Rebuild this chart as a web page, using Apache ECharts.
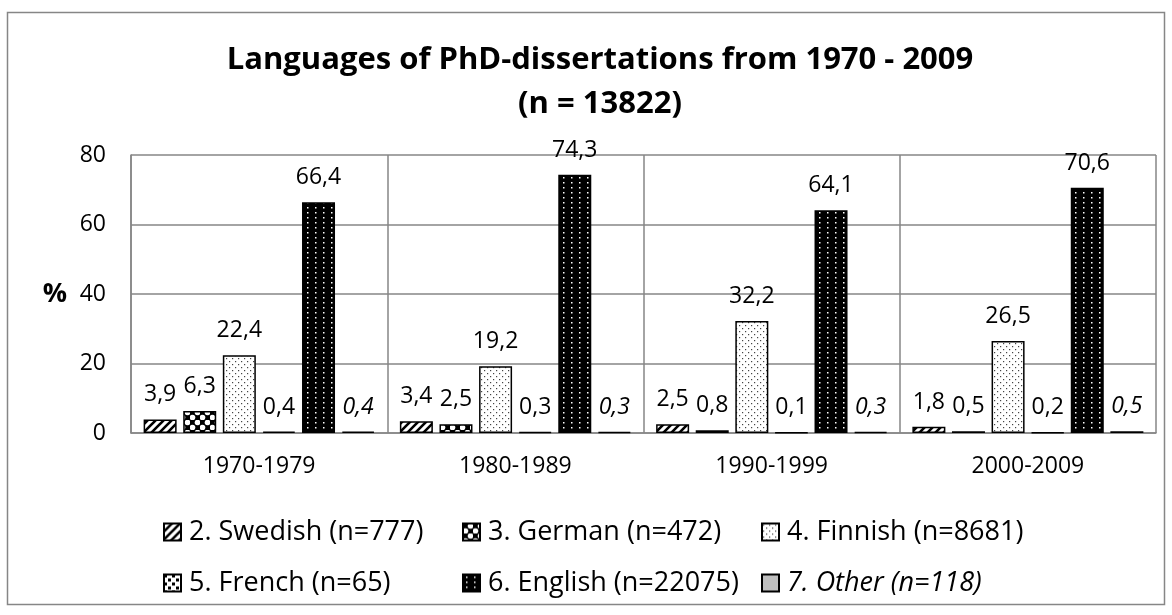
<!DOCTYPE html>
<html>
<head>
<meta charset="utf-8">
<script src="https://cdn.jsdelivr.net/npm/echarts@6/dist/echarts.min.js"></script>
<style>
  html, body { margin: 0; padding: 0; background: #fff; }
  #chart { width: 1172px; height: 615px; }
</style>
</head>
<body>
<div id="chart"></div>
<script>
const periods = ['1970-1979', '1980-1989', '1990-1999', '2000-2009']
const languages = ['2. Swedish (n=777)', '3. German (n=472)', '4. Finnish (n=8681)', '5. French (n=65)', '6. English (n=22075)', '7. Other (n=118)']
const swedish = [3.9, 3.4, 2.5, 1.8]
const german = [6.3, 2.5, 0.8, 0.5]
const finnish = [22.4, 19.2, 32.2, 26.5]
const french = [0.4, 0.3, 0.1, 0.2]
const english = [66.4, 74.3, 64.1, 70.6]
const other = [0.4, 0.3, 0.3, 0.5]
const yTicks = [0, 20, 40, 60, 80]

const FONT = "'Open Sans', sans-serif"
const GRID = '#868686'

// small canvas tiles used as bar fills (Excel style patterns)
function pattern(w, h, draw) {
  const c = document.createElement('canvas')
  c.width = w
  c.height = h
  draw(c.getContext('2d'), w, h)
  return { image: c, repeat: 'repeat' }
}

const fills = [
  // Swedish: wide diagonal stripes
  pattern(8, 8, (g, w, h) => {
    g.fillStyle = '#fff'; g.fillRect(0, 0, w, h)
    g.strokeStyle = '#000'; g.lineWidth = 2.6
    g.beginPath()
    g.moveTo(-2, 10); g.lineTo(10, -2)
    g.moveTo(-4, 4); g.lineTo(4, -4)
    g.moveTo(4, 12); g.lineTo(12, 4)
    g.stroke()
  }),
  // German: checker with round cells
  pattern(10, 10, (g, w, h) => {
    g.fillStyle = '#000'; g.fillRect(0, 0, w, h)
    g.fillStyle = '#fff'
    g.beginPath(); g.arc(2.5, 7.5, 2.8, 0, Math.PI * 2); g.fill()
    g.beginPath(); g.arc(7.5, 2.5, 2.8, 0, Math.PI * 2); g.fill()
  }),
  // Finnish: sparse dots
  pattern(6, 6, (g, w, h) => {
    g.fillStyle = '#fff'; g.fillRect(0, 0, w, h)
    g.fillStyle = '#444'
    g.fillRect(1, 1, 1.2, 1.2)
    g.fillRect(4, 4, 1.2, 1.2)
  }),
  // French: confetti squares
  pattern(8, 8, (g, w, h) => {
    g.fillStyle = '#fff'; g.fillRect(0, 0, w, h)
    g.fillStyle = '#000'
    g.fillRect(0, 0, 3, 3)
    g.fillRect(4, 4, 3, 3)
  }),
  // English: black with white dots
  pattern(8, 5, (g, w, h) => {
    g.fillStyle = '#000'; g.fillRect(0, 0, w, h)
    g.fillStyle = '#fff'
    g.fillRect(3, 2, 1.5, 1.5)
  }),
  // Other: plain grey
  '#bfbfbf'
]

const values = [swedish, german, finnish, french, english, other]

const chart = echarts.init(document.getElementById('chart'))

function legendCol(left, names) {
  return {
    orient: 'vertical',
    left: left,
    top: 513,
    itemWidth: 17,
    itemHeight: 17,
    itemGap: 23,
    icon: 'rect',
    selectedMode: false,
    textStyle: { fontFamily: FONT, fontSize: 27, color: '#000', lineHeight: 28, padding: [0, 0, 0, 3] },
    data: names.map(n => n === languages[5]
      ? { name: n, textStyle: { fontStyle: 'italic' } }
      : n)
  }
}

chart.setOption({
  animation: false,
  backgroundColor: '#fff',
  title: {
    text: 'Languages of PhD-dissertations from 1970 - 2009\n(n = 13822)',
    left: 595,
    top: 33,
    textAlign: 'center',
    textStyle: { fontFamily: FONT, fontSize: 31, fontWeight: 'bold', color: '#000', lineHeight: 44 }
  },
  graphic: [{
    type: 'rect',
    shape: { x: 7.5, y: 12.5, width: 1157, height: 592 },
    style: { fill: 'none', stroke: GRID, lineWidth: 1.5 },
    silent: true
  }],
  legend: [
    legendCol(158, [languages[0], languages[3]]),
    legendCol(457, [languages[1], languages[4]]),
    legendCol(756, [languages[2], languages[5]])
  ],
  grid: { left: 131, right: 16, top: 155, bottom: 182 },
  xAxis: {
    type: 'category',
    data: periods,
    axisTick: { show: false },
    axisLine: { lineStyle: { color: GRID, width: 1.5 } },
    splitLine: { show: true, lineStyle: { color: GRID, width: 1.5 } },
    axisLabel: { fontFamily: FONT, fontSize: 23, color: '#000', margin: 22 }
  },
  yAxis: {
    type: 'value',
    min: yTicks[0],
    max: yTicks[yTicks.length - 1],
    interval: yTicks[1] - yTicks[0],
    name: '%',
    nameLocation: 'middle',
    nameRotate: 0,
    nameGap: 64,
    nameTextStyle: { fontFamily: FONT, fontSize: 27, fontWeight: 'bold', color: '#000' },
    axisLine: { show: true, lineStyle: { color: GRID, width: 1.5 } },
    axisTick: { show: false },
    splitLine: { lineStyle: { color: GRID, width: 1.5 } },
    axisLabel: { fontFamily: FONT, fontSize: 23, color: '#000', margin: 25 }
  },
  series: languages.map((name, i) => ({
    name: name,
    type: 'bar',
    data: values[i],
    barWidth: 33,
    barGap: '20%',
    itemStyle: { color: fills[i], borderColor: '#000', borderWidth: 1.5 },
    label: {
      show: true,
      position: 'top',
      distance: 13,
      fontFamily: FONT,
      fontSize: 23,
      color: '#000',
      fontStyle: i === 5 ? 'italic' : 'normal',
      formatter: p => String(p.value).replace('.', ',')
    }
  }))
})
</script>
</body>
</html>
